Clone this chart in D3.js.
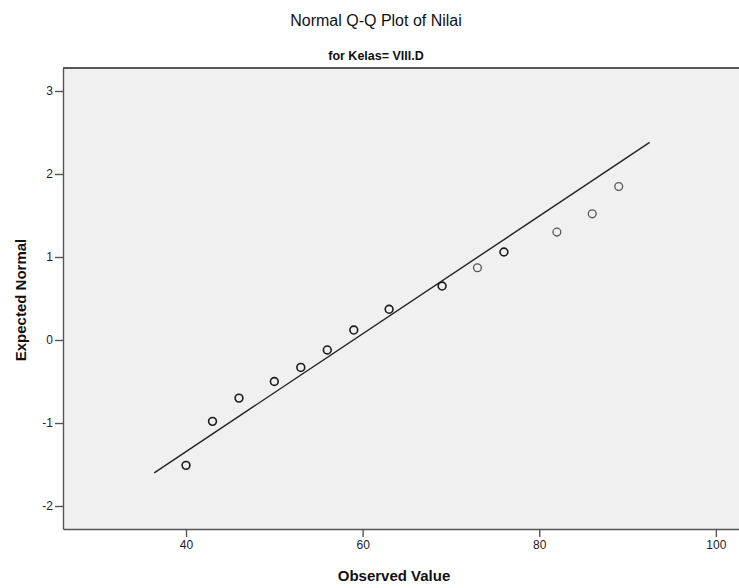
<!DOCTYPE html>
<html>
<head>
<meta charset="utf-8">
<script src="https://cdn.jsdelivr.net/npm/d3@7"></script>
<style>
  body { margin: 0; background: #fff; }
  svg { display: block; font-family: "Liberation Sans", Arial, sans-serif; }
  .axis path, .axis line { stroke: #555; stroke-width: 1.4; }
  .axis text { fill: #222; font-size: 12px; }
</style>
</head>
<body>
<div id="chart"></div>
<script>
const width = 739;
const height = 588;

// observed scores and their expected normal values
const observed = [40, 43, 46, 50, 53, 56, 59, 63, 69, 73, 76, 82, 86, 89];
const expected = [-1.51, -0.98, -0.70, -0.50, -0.33, -0.12, 0.12, 0.37, 0.65, 0.87, 1.06, 1.30, 1.52, 1.85];
// circles that look darker were drawn more than once
const freq = [2, 2, 2, 2, 2, 2, 2, 2, 2, 1, 2, 1, 1, 1];

// reference line endpoints [observed, expected]
const lineX = [36.4, 92.5];
const lineY = [-1.60, 2.38];

const xTicks = [40, 60, 80, 100];
const yTicks = [-2, -1, 0, 1, 2, 3];

const title = "Normal Q-Q Plot of Nilai";
const subtitle = "for Kelas= VIII.D";
const xLabel = "Observed Value";
const yLabel = "Expected Normal";

const plot = { left: 63, right: 745, top: 68, bottom: 529 };

const svg = d3.select("#chart").append("svg")
    .attr("width", width)
    .attr("height", height);

const xScale = d3.scaleLinear().domain([26.07, 103.3]).range([plot.left, plot.right]);
const yScale = d3.scaleLinear().domain([-2.277, 3.277]).range([plot.bottom, plot.top]);

// plot background
svg.append("rect")
    .attr("x", plot.left)
    .attr("y", plot.top)
    .attr("width", plot.right - plot.left)
    .attr("height", plot.bottom - plot.top)
    .attr("fill", "#f0f0f0");

// top frame line
svg.append("line")
    .attr("x1", plot.left).attr("x2", plot.right)
    .attr("y1", plot.top).attr("y2", plot.top)
    .attr("stroke", "#222").attr("stroke-width", 1.4);

const xAxis = d3.axisBottom(xScale).tickValues(xTicks).tickSize(8).tickSizeOuter(0).tickPadding(3);
const yAxis = d3.axisLeft(yScale).tickValues(yTicks).tickSize(8).tickSizeOuter(0).tickPadding(2)
    .tickFormat(d => String(d));

svg.append("g")
    .attr("class", "axis x-axis")
    .attr("transform", `translate(0, ${plot.bottom})`)
    .call(xAxis);

svg.append("g")
    .attr("class", "axis y-axis")
    .attr("transform", `translate(${plot.left}, 0)`)
    .call(yAxis);

// reference line
svg.append("line")
    .attr("x1", xScale(lineX[0])).attr("y1", yScale(lineY[0]))
    .attr("x2", xScale(lineX[1])).attr("y2", yScale(lineY[1]))
    .attr("stroke", "#222")
    .attr("stroke-width", 1.4);

const points = observed.map((d, i) => ({ x: d, y: expected[i], n: freq[i] }));

svg.append("g").attr("class", "dots")
    .selectAll("circle")
    .data(points)
    .join("circle")
    .attr("cx", d => xScale(d.x))
    .attr("cy", d => yScale(d.y))
    .attr("r", 3.9)
    .attr("fill", "none")
    .attr("stroke", d => d.n > 1 ? "#1a1a1a" : "#555")
    .attr("stroke-width", d => d.n > 1 ? 1.6 : 1.3);

// titles
svg.append("text")
    .attr("x", 376).attr("y", 26)
    .attr("text-anchor", "middle")
    .style("font-size", "16px")
    .attr("fill", "#111")
    .text(title);

svg.append("text")
    .attr("x", 376).attr("y", 60)
    .attr("text-anchor", "middle")
    .style("font-size", "12.5px")
    .style("font-weight", "bold")
    .attr("fill", "#111")
    .text(subtitle);

svg.append("text")
    .attr("x", 394).attr("y", 581)
    .attr("text-anchor", "middle")
    .style("font-size", "15px")
    .style("font-weight", "bold")
    .attr("fill", "#111")
    .text(xLabel);

svg.append("text")
    .attr("transform", `translate(26, 300) rotate(-90)`)
    .attr("text-anchor", "middle")
    .style("font-size", "15px")
    .style("font-weight", "bold")
    .attr("fill", "#111")
    .text(yLabel);
</script>
</body>
</html>
